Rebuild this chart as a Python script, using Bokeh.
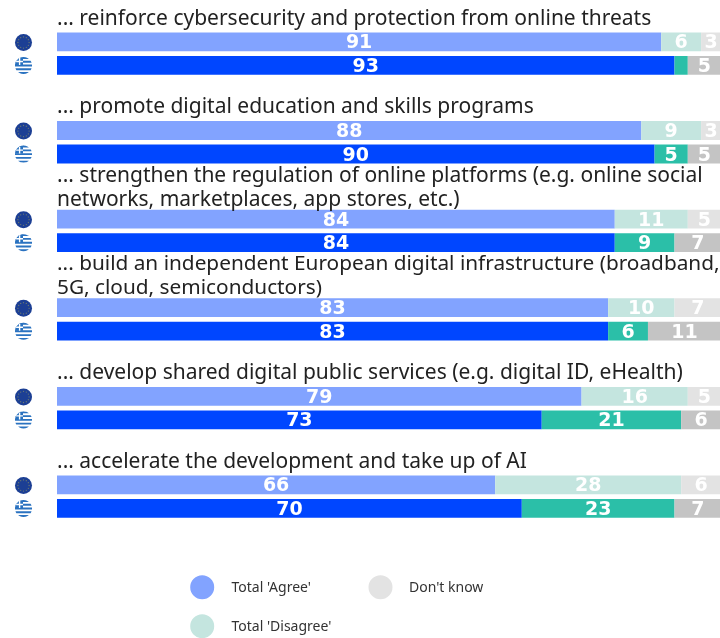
from bokeh.plotting import figure
from bokeh.models import Range1d, ColumnDataSource
from bokeh.core.properties import value
from bokeh.embed import file_html
from bokeh.resources import INLINE
import math

# ---- data ----
titles = [
    ["... reinforce cybersecurity and protection from online threats"],
    ["... promote digital education and skills programs"],
    ["... strengthen the regulation of online platforms (e.g. online social",
     "networks, marketplaces, app stores, etc.)"],
    ["... build an independent European digital infrastructure (broadband,",
     "5G, cloud, semiconductors)"],
    ["... develop shared digital public services (e.g. digital ID, eHealth)"],
    ["... accelerate the development and take up of AI"],
]
eu_agree = [91, 88, 84, 83, 79, 66]
eu_disagree = [6, 9, 11, 10, 16, 28]
eu_dontknow = [3, 3, 5, 7, 5, 6]
gr_agree = [93, 90, 84, 83, 73, 70]
gr_disagree = [2, 5, 9, 6, 21, 23]
gr_dontknow = [5, 5, 7, 11, 6, 7]
legend_labels = ["Total 'Agree'", "Total 'Disagree'", "Don't know"]

# ---- layout and style ----
W, H = 720, 638
X0, K = 56.5, 6.64
GROUP_TOP, GROUP_STEP = 32, 88.6
BAR_H = 18.8
GR_OFFSET = 23.5
FONT = "Noto Sans"
TITLE_SIZES = ["21px", "21px", "21px", "20.8px", "21px", "21px"]
C_EU = ["#82A3FF", "#C4E5DF", "#E3E3E3"]
C_GR = ["#0046FF", "#2BBFA8", "#C4C4C4"]
MIN_LABEL = 3

p = figure(width=W, height=H, output_backend="svg", toolbar_location=None,
           x_range=Range1d(-X0 / K, (W - X0) / K), y_range=Range1d(H, 0),
           min_border=0, outline_line_color=None,
           styles={"position": "fixed", "left": "0px", "top": "0px"})
p.axis.visible = False
p.grid.visible = False
p.extra_x_ranges["px"] = Range1d(0, W)

seg_left, seg_right, seg_top, seg_bot, seg_col = [], [], [], [], []
lab_x, lab_y, lab_t = [], [], []
for i in range(6):
    for rows, cols, off in (((eu_agree, eu_disagree, eu_dontknow), C_EU, 0),
                            ((gr_agree, gr_disagree, gr_dontknow), C_GR, GR_OFFSET)):
        top = GROUP_TOP + GROUP_STEP * i + off
        start = 0
        for r, c in zip(rows, cols):
            v = r[i]
            seg_left.append(start)
            seg_right.append(start + v)
            seg_top.append(top)
            seg_bot.append(top + BAR_H)
            seg_col.append(c)
            if v >= MIN_LABEL:
                lab_x.append(start + v / 2)
                lab_y.append(top + BAR_H / 2 - 0.5)
                lab_t.append(str(v))
            start += v

p.quad(left="seg_left", right="seg_right", top="seg_top", bottom="seg_bot", fill_color="seg_col",
       line_color=None,
       source=ColumnDataSource(dict(seg_left=seg_left, seg_right=seg_right, seg_top=seg_top,
                                    seg_bot=seg_bot, seg_col=seg_col)))
p.text(x="x", y="y", text="t", text_color="#FFFFFF", text_font=value("DejaVu Sans"), text_font_style="bold",
       text_font_size="19px", text_align="center", text_baseline="middle",
       source=ColumnDataSource(dict(x=lab_x, y=lab_y, t=lab_t)))

# titles
tx, ty, tt, ts = [], [], [], []
for i, lines in enumerate(titles):
    base = GROUP_TOP + GROUP_STEP * i - 16 + (4 if len(lines) == 2 else 0)
    for j, line in enumerate(lines):
        tx.append(X0)
        ty.append(base - (len(lines) - 1 - j) * 24)
        tt.append(line)
        ts.append(TITLE_SIZES[i])
p.text(x="x", y="y", text="t", x_range_name="px", text_color="#222222", text_font=value(FONT),
       text_font_size="s", text_baseline="alphabetic",
       source=ColumnDataSource(dict(x=tx, y=ty, t=tt, s=ts)))


def band(cx, cy, r, y0, y1, xmax=None):
    """Polygon: part of a circle between two heights, optionally cut at xmax."""
    ys = [y0 + (y1 - y0) * n / 8 for n in range(9)]
    xs_l = [cx - math.sqrt(max(r * r - (y - cy) ** 2, 0)) for y in ys]
    xs_r = [cx + math.sqrt(max(r * r - (y - cy) ** 2, 0)) for y in ys]
    if xmax is not None:
        xs_r = [min(x, xmax) for x in xs_r]
    return xs_l + xs_r[::-1], ys + ys[::-1]


# flags
FX, FR = 23, 8.5
for i in range(6):
    cy = GROUP_TOP + GROUP_STEP * i + 10
    p.ellipse(x=[FX], y=[cy], width=[2 * FR], height=[2 * FR], x_range_name="px",
              fill_color="#1C3F94", line_color=None)
    a = [k * math.pi / 6 for k in range(12)]
    p.ellipse(x=[FX + 5.6 * math.cos(t) for t in a], y=[cy + 5.6 * math.sin(t) for t in a],
              width=1.3, height=1.3, x_range_name="px", fill_color="#6E7A70", line_color=None)
    gy = cy + GR_OFFSET - 0.5
    p.ellipse(x=[FX], y=[gy], width=[2 * FR], height=[2 * FR], x_range_name="px",
              fill_color="#FFFFFF", line_color=None)
    sh = 2 * FR / 9
    px_list, py_list = [], []
    for k in range(0, 9, 2):
        xs, ys = band(FX, gy, FR, gy - FR + k * sh, gy - FR + (k + 1) * sh)
        px_list.append(xs)
        py_list.append(ys)
    xs, ys = band(FX, gy, FR, gy - FR, gy - 0.5, xmax=FX - 0.5)
    px_list.append(xs)
    py_list.append(ys)
    p.patches(px_list, py_list, x_range_name="px", fill_color="#2A72C0", line_color=None)
    p.quad(left=[FX - 7.4], right=[FX - 0.5], top=[gy - 4.7], bottom=[gy - 3.3], x_range_name="px",
           fill_color="#FFFFFF", line_color=None)
    p.quad(left=[FX - 4.6], right=[FX - 3.2], top=[gy - 7.4], bottom=[gy - 0.5], x_range_name="px",
           fill_color="#FFFFFF", line_color=None)

# legend
LEG = [(201.7, 586.7, C_EU[0], 231, legend_labels[0]),
       (201.7, 625.7, C_EU[1], 231, legend_labels[1]),
       (380, 586.7, C_EU[2], 408.5, legend_labels[2])]
for cx, cy, col, lx, lab in LEG:
    p.ellipse(x=[cx], y=[cy], width=[24], height=[24], x_range_name="px", fill_color=col, line_color=None)
    p.text(x=[lx], y=[cy - 1], text=[lab], x_range_name="px", text_color="#333333", text_font=value(FONT),
           text_font_size="14px", text_baseline="middle")

open("out.html", "w").write(file_html(p, INLINE))
